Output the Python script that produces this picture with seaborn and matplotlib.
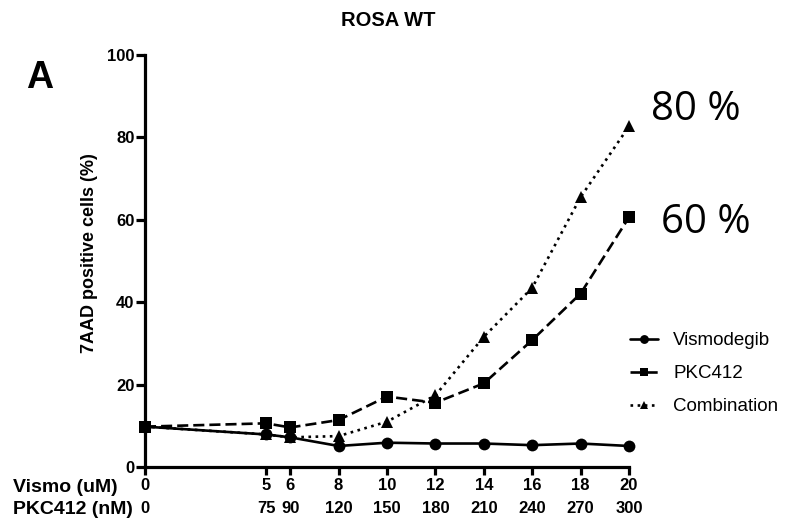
import seaborn as sns
import pandas as pd
import matplotlib.pyplot as plt

# doses (x axis is linear in Vismo uM, PKC412 nM shown as second label row)
vismo_uM = [0, 5, 6, 8, 10, 12, 14, 16, 18, 20]
pkc412_nM = [0, 75, 90, 120, 150, 180, 210, 240, 270, 300]

# 7AAD positive cells (%)
vismodegib = [9.8, 7.9, 7.2, 5.1, 5.9, 5.7, 5.7, 5.3, 5.7, 5.1]
pkc412 = [9.8, 10.6, 9.6, 11.4, 17.1, 15.6, 20.3, 30.8, 42.1, 60.6]
combination = [9.8, 7.9, 7.2, 7.5, 11.0, 17.4, 31.6, 43.5, 65.5, 82.7]

series = {'Vismodegib': vismodegib, 'PKC412': pkc412, 'Combination': combination}
rows = []
for name, vals in series.items():
    for x, y in zip(vismo_uM, vals):
        rows.append({'vismo': x, 'pct': y, 'treatment': name})
df = pd.DataFrame(rows)

sns.set_style('ticks', {'axes.edgecolor': 'black', 'text.color': 'black',
                        'axes.labelcolor': 'black', 'xtick.color': 'black',
                        'ytick.color': 'black'})
plt.rcParams['font.family'] = ['Liberation Sans', 'DejaVu Sans']

fig = plt.figure(figsize=(7.85, 5.21), dpi=100)
ax = fig.add_axes([145 / 785, 54 / 521, 484 / 785, 412 / 521])

draw_order = ['Combination', 'PKC412', 'Vismodegib']   # circles on top
sns.lineplot(data=df, x='vismo', y='pct', hue='treatment', style='treatment',
             hue_order=draw_order, style_order=draw_order,
             palette={k: 'black' for k in draw_order},
             markers={'Vismodegib': 'o', 'PKC412': 's', 'Combination': '^'},
             dashes={'Vismodegib': '', 'PKC412': (4.2, 1.9), 'Combination': (1.0, 1.7)},
             linewidth=1.9, markersize=8.5, markeredgewidth=0, clip_on=False, ax=ax)

ax.set_xlim(0, 20)
ax.set_ylim(0, 100)
ax.set_yticks([0, 20, 40, 60, 80, 100])
ax.set_xticks(vismo_uM)
ax.set_xticklabels([f'{v}\n{p}' for v, p in zip(vismo_uM, pkc412_nM)],
                   fontsize=12, fontweight='bold', linespacing=1.65)
for lab in ax.get_yticklabels():
    lab.set_fontsize(12)
    lab.set_fontweight('bold')

sns.despine(ax=ax)
for s in ['left', 'bottom']:
    ax.spines[s].set_linewidth(2.3)
ax.tick_params(axis='y', length=6.5, width=2.3, pad=1)
ax.tick_params(axis='x', length=6, width=2.3, pad=2)

ax.set_xlabel('')
ax.set_ylabel('7AAD positive cells (%)', fontsize=13, fontweight='bold')
ax.yaxis.set_label_coords(-0.097, 0.52)

# row labels for the two dose scales
fig.text(13 / 785, 1 - 487 / 521, 'Vismo (uM)', fontsize=14, fontweight='bold', va='center')
fig.text(13 / 785, 1 - 509 / 521, 'PKC412 (nM)', fontsize=14, fontweight='bold', va='center')

fig.text(388 / 785, 1 - 21 / 521, 'ROSA WT', fontsize=14.5, fontweight='bold', ha='center', va='center')
fig.text(40 / 785, 1 - 78 / 521, 'A', fontsize=27, fontweight='bold', ha='center', va='center')

fig.text(696 / 785, 1 - 110 / 521, '80 %', fontsize=29, ha='center', va='center',
         family=['Open Sans', 'DejaVu Sans'])
fig.text(706 / 785, 1 - 223 / 521, '60 %', fontsize=29, ha='center', va='center',
         family=['Open Sans', 'DejaVu Sans'])

# legend in GraphPad order
handles, labels = ax.get_legend_handles_labels()
lookup = dict(zip(labels, handles))
legend_order = ['Vismodegib', 'PKC412', 'Combination']
ax.legend([lookup[k] for k in legend_order], legend_order,
          loc='upper left', bbox_to_anchor=(630 / 785, 1 - 332 / 521),
          bbox_transform=fig.transFigure, frameon=False, fontsize=13.5,
          handlelength=1.5, handletextpad=0.8, labelspacing=0.85,
          borderpad=0, borderaxespad=0, markerscale=0.75)

fig.savefig('out.png', dpi=100)
